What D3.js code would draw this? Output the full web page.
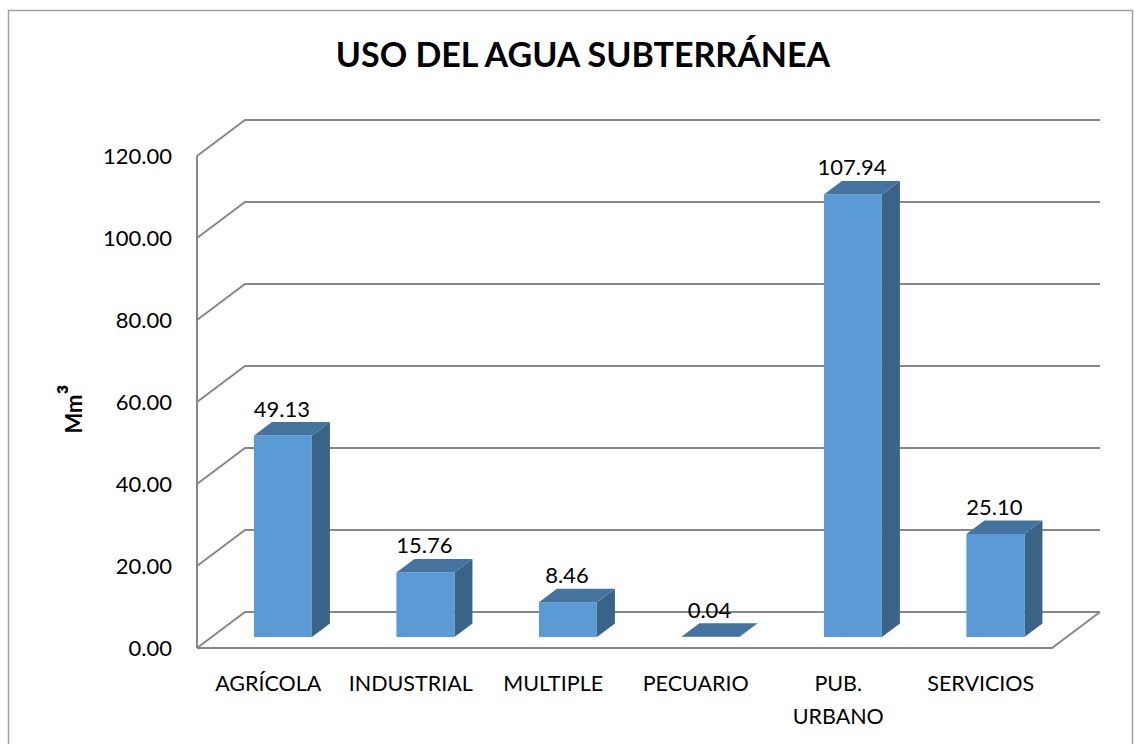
<!DOCTYPE html>
<html>
<head>
<meta charset="utf-8">
<script src="https://cdn.jsdelivr.net/npm/d3@7"></script>
<style>
  html, body { margin: 0; padding: 0; background: #fff; }
  svg { display: block; }
  text { font-family: Lato, "Open Sans", sans-serif; fill: #000; }
</style>
</head>
<body>
<svg id="chart" width="1135" height="744"></svg>
<script>
const categories = ["AGRÍCOLA", "INDUSTRIAL", "MULTIPLE", "PECUARIO", "PUB.\nURBANO", "SERVICIOS"];
const values = [49.13, 15.76, 8.46, 0.04, 107.94, 25.10];
const yTicks = [0, 20, 40, 60, 80, 100, 120];
const chartTitle = "USO DEL AGUA SUBTERRÁNEA";
const yTitleMain = "Mm";
const yTitleSup = "³";

const svg = d3.select("#chart");

// frame
svg.append("rect").attr("x", 8.5).attr("y", 10.5).attr("width", 1124).attr("height", 740)
  .attr("fill", "#fff").attr("stroke", "#a0a0a0").attr("stroke-width", 1.5);

// geometry of the 3D box
const front = { left: 197, right: 1052, bottom: 648, top: 156 };
const depth = { dx: 48, dy: -36 };
const barZ0 = 11 / 36, barZ1 = 24.5 / 36;

const y = d3.scaleLinear().domain([0, 120]).range([front.bottom, front.top]);
const x = d3.scaleBand().domain(categories).range([front.left, front.right]).paddingInner(0.593).paddingOuter(0.2965);

const grid = svg.append("g").attr("fill", "none").attr("stroke", "#878787").attr("stroke-width", 2);

// left wall vertical edge
grid.append("line").attr("x1", front.left).attr("x2", front.left)
  .attr("y1", y(0)).attr("y2", y(120));

// gridlines on left wall + back wall
yTicks.forEach(t => {
  const yf = y(t);
  grid.append("path").attr("d", d3.line()([
    [front.left, yf],
    [front.left + depth.dx, yf + depth.dy],
    [front.right + depth.dx, yf + depth.dy]
  ]));
});

// floor front and right edges
grid.append("path").attr("d", d3.line()([
  [front.left, y(0)],
  [front.right, y(0)],
  [front.right + depth.dx, y(0) + depth.dy]
]));

// y tick labels
svg.append("g").selectAll("text").data(yTicks).join("text")
  .attr("x", 172).attr("y", d => y(d) + 2)
  .attr("text-anchor", "end").attr("dominant-baseline", "middle")
  .attr("font-size", 22)
  .text(d => d.toFixed(2));

// bars
const colFront = "#5b9bd5", colTop = "#44739f", colSide = "#3a6388";
const ox0 = depth.dx * barZ0, oy0 = depth.dy * barZ0;
const ox1 = depth.dx * barZ1, oy1 = depth.dy * barZ1;
const bars = svg.append("g");
categories.forEach((c, i) => {
  const v = values[i];
  const xl = x(c) + ox0, xr = x(c) + x.bandwidth() + ox0;
  const yb = y(0) + oy0, yt = y(v) + oy0;
  const dx = ox1 - ox0, dy = oy1 - oy0;
  const g = bars.append("g");
  g.append("path").attr("fill", colSide).attr("d", d3.line()([
    [xr, yb], [xr + dx, yb + dy], [xr + dx, yt + dy], [xr, yt]
  ]) + "Z");
  g.append("path").attr("fill", colFront).attr("d", d3.line()([
    [xl, yb], [xr, yb], [xr, yt], [xl, yt]
  ]) + "Z");
  g.append("path").attr("fill", colTop).attr("d", d3.line()([
    [xl, yt], [xr, yt], [xr + dx, yt + dy], [xl + dx, yt + dy]
  ]) + "Z");
  svg.append("text")
    .attr("x", (xl + xr) / 2 - 1).attr("y", yt - 19)
    .attr("text-anchor", "middle").attr("font-size", 22)
    .text(v.toFixed(2));
});

// category labels
const catG = svg.append("g");
categories.forEach(c => {
  const lines = c.split("\n");
  const t = catG.append("text").attr("text-anchor", "middle").attr("font-size", 21.5)
    .attr("x", x(c) + x.bandwidth() / 2).attr("y", 691);
  lines.forEach((ln, k) => {
    t.append("tspan").attr("x", x(c) + x.bandwidth() / 2).attr("dy", k === 0 ? 0 : 33).text(ln);
  });
});

// title
svg.append("text").attr("x", 583).attr("y", 67).attr("text-anchor", "middle")
  .attr("font-size", 34).attr("font-weight", "bold").text(chartTitle);

// y-axis title
const yt = svg.append("text").attr("transform", "translate(82,409) rotate(-90)")
  .attr("text-anchor", "middle").attr("font-size", 22).attr("font-weight", "bold");
yt.append("tspan").text(yTitleMain);
yt.append("tspan").attr("font-size", 30).text(yTitleSup);
</script>
</body>
</html>
